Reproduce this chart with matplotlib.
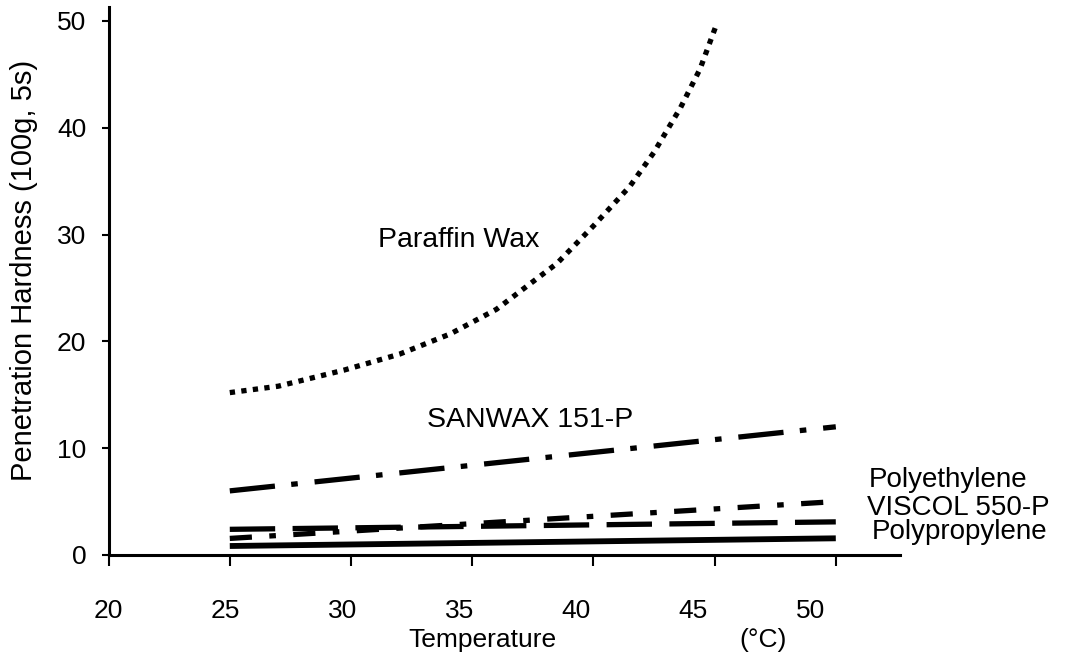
import matplotlib
matplotlib.use('Agg')
import matplotlib.pyplot as plt

plt.rcParams['font.family'] = ['Liberation Sans', 'DejaVu Sans']

# temperature (deg C) and penetration hardness
paraffin_t = [25, 27, 29.7, 32, 34.1, 36, 38.5, 40, 41.5, 42.5, 43.6, 44.4, 45.1]
paraffin_h = [15.2, 15.8, 17.3, 18.8, 20.7, 23.0, 27.3, 30.8, 34.5, 37.7, 41.9, 45.5, 49.8]

sanwax_t = [25, 50]
sanwax_h = [6.0, 12.0]

polyethylene_t = [25, 50]
polyethylene_h = [1.55, 5.0]

viscol_t = [25, 50]
viscol_h = [2.4, 3.1]

polypropylene_t = [25, 50]
polypropylene_h = [0.84, 1.56]

x_ticks = [20, 25, 30, 35, 40, 45, 50]
y_ticks = [0, 10, 20, 30, 40, 50]

fig = plt.figure(figsize=(10.73, 6.61), dpi=100)
ax = fig.add_axes([0.1012, 0.1604, 0.7376, 0.829])

lw = 3.8
ax.plot(paraffin_t, paraffin_h, color='black', lw=3.8,
        linestyle=(0, (1, 1.2)), dash_capstyle='butt')
ax.plot(sanwax_t, sanwax_h, color='black', lw=lw,
        linestyle=(0, (8.6, 3.1, 1.25, 3.2)), dash_capstyle='butt')
ax.plot(polyethylene_t, polyethylene_h, color='black', lw=lw,
        linestyle=(0, (4.2, 3.3, 1.25, 3.3)), dash_capstyle='butt')
ax.plot(viscol_t, viscol_h, color='black', lw=lw,
        linestyle=(0, (8.6, 3.3)), dash_capstyle='butt')
ax.plot(polypropylene_t, polypropylene_h, color='black', lw=4.2,
        solid_capstyle='butt')

# series labels
ax.text(34.46, 29.5, 'Paraffin Wax', fontsize=20.5, ha='center', va='center')
ax.text(37.4, 12.6, 'SANWAX 151-P', fontsize=20.5, ha='center', va='center')
ax.text(51.35, 7.0, 'Polyethylene', fontsize=20, ha='left', va='center', clip_on=False)
ax.text(51.3, 4.4, 'VISCOL 550-P', fontsize=20, ha='left', va='center', clip_on=False)
ax.text(51.5, 2.15, 'Polypropylene', fontsize=20, ha='left', va='center', clip_on=False)

ax.set_xlim(20, 52.65)
ax.set_ylim(0, 51.3)

for side in ['top', 'right']:
    ax.spines[side].set_visible(False)
for side in ['left', 'bottom']:
    ax.spines[side].set_linewidth(2.2)

ax.set_yticks(y_ticks)
ax.tick_params(axis='y', direction='out', length=5, width=1.5, pad=11, labelsize=19)

# tick marks on the data positions, the labels sit slightly off them
ax.xaxis.remove_overlapping_locs = False
ax.set_xticks(x_ticks)
ax.tick_params(axis='x', which='major', direction='out', length=8, width=1.5,
               labelbottom=False)
label_pos = [20 + (v - 20) * 0.965 for v in x_ticks]
ax.set_xticks(label_pos, labels=[str(v) for v in x_ticks], minor=True)
ax.tick_params(axis='x', which='minor', length=0, pad=32, labelsize=19)

ax.set_ylabel('Penetration Hardness (100g, 5s)', fontsize=21)
ax.yaxis.set_label_coords(-0.089, 0.52)
ax.set_xlabel('Temperature', fontsize=19)
ax.xaxis.set_label_coords(0.472, -0.133)
ax.text(0.827, -0.155, '(°C)', fontsize=19, ha='center', va='center',
        transform=ax.transAxes)

fig.savefig('out.png', dpi=100)
